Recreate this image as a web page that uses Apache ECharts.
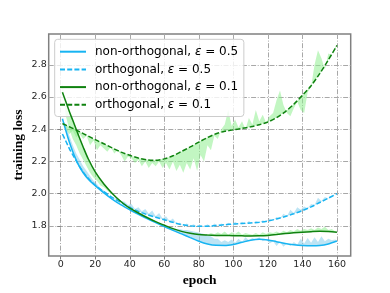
<!DOCTYPE html>
<html><head><meta charset="utf-8">
<script src="https://cdn.jsdelivr.net/npm/echarts@6/dist/echarts.min.js"></script>
<style>html,body{margin:0;padding:0;background:#fff}#c{width:390px;height:293px}</style>
</head><body><div id="c"></div>
<script>
const seriesNames = ['non-orthogonal, ε = 0.5', 'orthogonal, ε = 0.5', 'non-orthogonal, ε = 0.1', 'orthogonal, ε = 0.1'];
const xTicks = [0, 20, 40, 60, 80, 100, 120, 140, 160];
const yTicks = [1.8, 2.0, 2.2, 2.4, 2.6, 2.8];

// smoothed curves
const smoothEpochs = [1,3,5,7,10,13,16,20,25,30,35,40,45,50,55,60,65,70,75,80,85,90,95,100,105,110,115,120,125,130,135,140,145,150,155,160];
const nonOrth05 = [2.465,2.39,2.32,2.26,2.185,2.13,2.09,2.05,2.005,1.965,1.93,1.90,1.872,1.845,1.82,1.796,1.772,1.75,1.727,1.705,1.688,1.679,1.678,1.685,1.698,1.711,1.717,1.713,1.702,1.691,1.683,1.678,1.676,1.678,1.688,1.706];
const orth05 = [2.37,2.325,2.28,2.24,2.185,2.135,2.095,2.052,2.012,1.976,1.944,1.915,1.89,1.87,1.853,1.838,1.822,1.808,1.80,1.797,1.798,1.802,1.807,1.812,1.815,1.818,1.822,1.83,1.843,1.858,1.875,1.895,1.918,1.945,1.972,2.0];
const nonOrth01 = [2.63,2.57,2.51,2.455,2.37,2.29,2.215,2.135,2.06,2.0,1.95,1.91,1.88,1.852,1.826,1.804,1.783,1.766,1.754,1.746,1.743,1.741,1.74,1.739,1.738,1.737,1.738,1.741,1.746,1.752,1.757,1.761,1.764,1.766,1.765,1.761];
const orth01 = [2.435,2.425,2.415,2.405,2.39,2.373,2.357,2.335,2.31,2.283,2.258,2.238,2.221,2.21,2.207,2.216,2.235,2.262,2.29,2.32,2.348,2.372,2.387,2.396,2.405,2.415,2.428,2.445,2.472,2.508,2.555,2.61,2.67,2.745,2.83,2.92];

// raw (noisy) curves
const rawEpochs = [1,3,5,7,9,11,13,15,17,19,21,23,25,27,29,31,33,35,37,39,41,43,45,47,49,51,53,55,57,59,61,63,65,67,69,71,73,75,77,79,81,83,85,87,89,91,93,95,97,99,101,103,105,107,109,111,113,115,117,119,121,123,125,127,129,131,133,135,137,139,141,143,145,147,149,151,153,155,157,159];
const rawNonOrth05 = [2.46,2.43,2.36,2.30,2.25,2.21,2.17,2.14,2.11,2.08,2.06,2.03,2.02,1.99,1.98,1.955,1.945,1.93,1.92,1.90,1.895,1.88,1.875,1.86,1.855,1.84,1.835,1.82,1.815,1.80,1.795,1.785,1.785,1.775,1.78,1.775,1.775,1.77,1.765,1.76,1.755,1.75,1.74,1.735,1.72,1.72,1.70,1.71,1.70,1.715,1.695,1.72,1.70,1.73,1.71,1.725,1.715,1.73,1.705,1.715,1.69,1.705,1.675,1.70,1.67,1.69,1.675,1.70,1.685,1.72,1.69,1.725,1.695,1.73,1.70,1.735,1.705,1.72,1.71,1.715];
const rawOrth05 = [2.37,2.32,2.28,2.24,2.20,2.16,2.13,2.10,2.08,2.06,2.045,2.03,2.015,2.0,1.985,1.975,1.965,1.955,1.95,1.93,1.935,1.905,1.915,1.89,1.905,1.875,1.895,1.86,1.88,1.845,1.86,1.83,1.845,1.815,1.82,1.805,1.815,1.8,1.81,1.795,1.805,1.795,1.81,1.795,1.815,1.80,1.815,1.805,1.82,1.805,1.825,1.81,1.825,1.81,1.83,1.815,1.83,1.82,1.835,1.825,1.845,1.835,1.855,1.845,1.875,1.86,1.9,1.88,1.915,1.9,1.92,1.91,1.935,1.93,1.975,1.955,1.98,1.97,1.985,1.995];
const rawNonOrth01 = [2.70,2.48,2.40,2.34,2.30,2.25,2.21,2.17,2.13,2.10,2.08,2.05,2.04,2.02,2.00,1.99,1.97,1.955,1.935,1.92,1.905,1.89,1.885,1.865,1.86,1.845,1.84,1.83,1.815,1.81,1.80,1.79,1.785,1.775,1.77,1.765,1.76,1.755,1.75,1.748,1.746,1.75,1.745,1.755,1.748,1.76,1.75,1.765,1.745,1.76,1.75,1.765,1.745,1.755,1.75,1.745,1.755,1.745,1.76,1.75,1.76,1.755,1.765,1.755,1.77,1.76,1.775,1.765,1.78,1.77,1.78,1.775,1.785,1.775,1.79,1.78,1.795,1.775,1.78,1.765];
const rawOrth01 = [2.44,2.40,2.37,2.39,2.35,2.37,2.34,2.36,2.30,2.33,2.27,2.30,2.28,2.26,2.29,2.25,2.27,2.24,2.20,2.23,2.22,2.19,2.21,2.17,2.20,2.16,2.19,2.17,2.20,2.16,2.19,2.15,2.20,2.14,2.18,2.13,2.19,2.15,2.22,2.14,2.24,2.20,2.30,2.27,2.36,2.34,2.40,2.43,2.52,2.42,2.46,2.41,2.45,2.40,2.47,2.43,2.52,2.45,2.49,2.44,2.48,2.50,2.58,2.64,2.55,2.50,2.48,2.53,2.57,2.52,2.50,2.63,2.66,2.80,2.89,2.84,2.77,2.87,2.86,2.91];

const BLUE = '#17b4f2';
const GREEN = '#0f820f';
const BLUE_SHADE = 'rgba(135,206,235,0.55)';
const GREEN_SHADE = 'rgba(144,238,144,0.55)';

function shade(raw, smooth, fill) {
  return {
    type: 'custom', silent: true, z: 1,
    data: [[rawEpochs[0], raw[0]]],
    renderItem: function (params, api) {
      const pts = [];
      for (let i = 0; i < rawEpochs.length; i++) pts.push(api.coord([rawEpochs[i], raw[i]]));
      for (let i = smoothEpochs.length - 1; i >= 0; i--) pts.push(api.coord([smoothEpochs[i], smooth[i]]));
      return { type: 'polygon', shape: { points: pts }, style: { fill: fill } };
    }
  };
}
function line(name, arr, color, dashed, z) {
  return {
    name: name, type: 'line', smooth: 0.3, symbol: 'none', z: z,
    data: smoothEpochs.map((e, i) => [e, arr[i]]),
    lineStyle: { color: color, width: 1.5, type: dashed ? [5, 2.2] : 'solid' },
    itemStyle: { color: color }
  };
}

const chart = echarts.init(document.getElementById('c'), null, { renderer: 'canvas' });
const gridLine = { show: true, lineStyle: { color: '#a8a8a8', width: 1, type: [5, 1.6, 1, 1.6] } };
chart.setOption({
  animation: false,
  grid: { left: 48.7, right: 39.3, top: 34, bottom: 33, show: true, borderColor: '#808080', borderWidth: 1.5, backgroundColor: 'transparent' },
  xAxis: {
    type: 'value', min: -6.95, max: 167.95,
    name: 'epoch', nameLocation: 'middle', nameGap: 18, nameMoveOverlap: false,
    nameTextStyle: { fontFamily: 'Liberation Serif', fontWeight: 'bold', fontSize: 13.5, color: '#000' },
    axisLine: { show: false },
    axisTick: { show: true, length: 3.5, lineStyle: { color: '#808080' }, customValues: xTicks },
    axisLabel: { customValues: xTicks, margin: 4, fontFamily: 'DejaVu Sans', fontSize: 9.5, color: '#262626' },
    splitLine: gridLine
  },
  yAxis: {
    type: 'value', min: 1.613, max: 2.991,
    name: 'training loss', nameLocation: 'middle', nameGap: 23, nameRotate: 90, nameMoveOverlap: false,
    nameTextStyle: { fontFamily: 'Liberation Serif', fontWeight: 'bold', fontSize: 13.5, color: '#000' },
    axisLine: { show: false },
    axisTick: { show: true, length: 3.5, lineStyle: { color: '#808080' }, customValues: yTicks },
    axisLabel: { customValues: yTicks, margin: 2, fontFamily: 'DejaVu Sans', fontSize: 9.5, color: '#262626', formatter: v => v.toFixed(1) },
    splitLine: gridLine
  },
  legend: {
    data: seriesNames, orient: 'vertical', left: 54.7, top: 39.3,
    itemWidth: 26, itemHeight: 14, itemGap: 3.7,
    padding: [5.4, 5.7, 4.7, 4.3],
    backgroundColor: 'rgba(255,255,255,0.8)', borderColor: '#cccccc', borderWidth: 1, borderRadius: 3,
    selectedMode: false,
    itemStyle: { opacity: 0, color: 'rgba(0,0,0,0)', borderWidth: 0 },
    textStyle: { fontFamily: 'DejaVu Sans', fontSize: 12, color: '#000', lineHeight: 14, padding: [0, 0, 0, 4],
      rich: { e: { fontFamily: 'DejaVu Sans', fontStyle: 'italic', fontSize: 12, color: '#000' } } },
    formatter: n => n.replace('ε', '{e|ε}')
  },
  series: [
    shade(rawNonOrth05, nonOrth05, BLUE_SHADE),
    shade(rawOrth05, orth05, BLUE_SHADE),
    shade(rawNonOrth01, nonOrth01, GREEN_SHADE),
    shade(rawOrth01, orth01, GREEN_SHADE),
    line(seriesNames[0], nonOrth05, BLUE, false, 3),
    line(seriesNames[1], orth05, BLUE, true, 3),
    line(seriesNames[2], nonOrth01, GREEN, false, 4),
    line(seriesNames[3], orth01, GREEN, true, 4)
  ]
});
</script></body></html>
